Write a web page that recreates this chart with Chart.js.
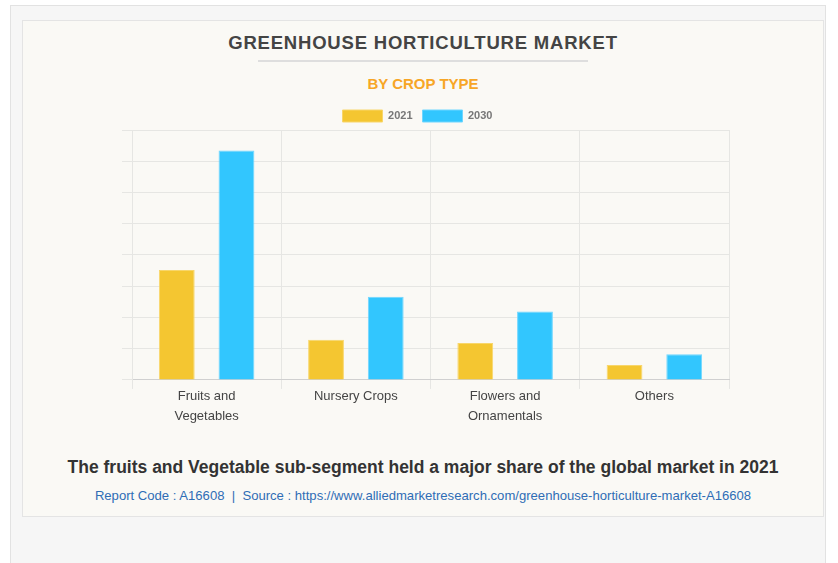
<!DOCTYPE html>
<html>
<head>
<meta charset="utf-8">
<script src="https://cdn.jsdelivr.net/npm/chart.js@4.4.1/dist/chart.umd.min.js"></script>
<style>
  html, body { margin: 0; padding: 0; background: #ffffff; width: 838px; height: 563px; overflow: hidden; font-family: "Liberation Sans", Arial, sans-serif; }
  #outer { position: absolute; left: 10px; top: 5px; width: 816px; height: 570px; background: #f6f6f6; border: 1px solid #e2e2e2; box-sizing: border-box; }
  #card { position: absolute; left: 22px; top: 20px; width: 802px; height: 497px; background: #faf9f5; border: 1px solid #e4e4e4; box-sizing: border-box; }
  .t { position: absolute; left: 22px; width: 802px; text-align: center; white-space: nowrap; }
  #title { top: 34px; font-size: 18.5px; line-height: 18px; letter-spacing: 0.8px; font-weight: bold; color: #444444; }
  #rule { position: absolute; left: 258px; top: 60px; width: 330px; height: 2px; background: #dedede; }
  #sub { top: 76px; font-size: 15px; line-height: 16px; font-weight: bold; color: #f7a626; }
  #note { top: 457px; font-size: 17.5px; line-height: 20px; font-weight: bold; color: #333333; }
  #src { top: 488px; font-size: 13.1px; line-height: 16px; color: #2f6db5; }
  #wrap { position: absolute; left: 22px; top: 98px; width: 802px; height: 340px; }
</style>
</head>
<body>
<div id="outer"></div>
<div id="card"></div>
<div class="t" id="title">GREENHOUSE HORTICULTURE MARKET</div>
<div id="rule"></div>
<div class="t" id="sub">BY CROP TYPE</div>
<div id="wrap"><canvas id="c" width="802" height="340"></canvas></div>
<div class="t" id="note">The fruits and Vegetable sub-segment held a major share of the global market in 2021</div>
<div class="t" id="src">Report Code : A16608&nbsp; | &nbsp;Source : https://www.alliedmarketresearch.com/greenhouse-horticulture-market-A16608</div>
<script>
const categories = [["Fruits and", "Vegetables"], "Nursery Crops", ["Flowers and", "Ornamentals"], "Others"];
const seriesNames = ["2021", "2030"];
const values2021 = [3.52, 1.29, 1.18, 0.48];
const values2030 = [7.34, 2.66, 2.19, 0.82];

const legendNudge = {
  id: "legendNudge",
  afterLayout(chart) {
    const l = chart.legend;
    if (!l) return;
    l.left -= 8; l.right -= 8;
    l.top += 2; l.bottom += 2;
  }
};

new Chart(document.getElementById("c"), {
  type: "bar",
  data: {
    labels: categories,
    datasets: [
      { label: seriesNames[0], data: values2021, backgroundColor: "#f4c631", borderColor: "#f8d66a", borderWidth: 1, categoryPercentage: 0.8, barPercentage: 0.6 },
      { label: seriesNames[1], data: values2030, backgroundColor: "#32c6fe", borderColor: "#6fd6ff", borderWidth: 1, categoryPercentage: 0.8, barPercentage: 0.6 }
    ]
  },
  plugins: [legendNudge],
  options: {
    responsive: false,
    animation: false,
    layout: { padding: { left: 100, right: 95, top: 0, bottom: 15 } },
    plugins: {
      legend: {
        display: true,
        position: "top",
        labels: { boxWidth: 40, boxHeight: 12, color: "#777777", font: { family: "Liberation Sans", size: 11, weight: "bold" }, padding: 10 }
      },
      tooltip: { enabled: false }
    },
    scales: {
      x: {
        grid: { display: true, offset: true, color: (ctx) => (ctx.index === 4 ? "rgba(0,0,0,0)" : "#e6e6e3"), tickLength: 9 },
        border: { display: true, color: "#d0d0d0" },
        ticks: { color: "#444444", padding: -3, font: { family: "Liberation Sans", size: 13, lineHeight: 1.54 }, maxRotation: 0, autoSkip: false }
      },
      y: {
        min: 0, max: 8,
        grid: { display: true, color: "#e6e6e3", tickLength: 10 },
        border: { display: true, color: "#e6e6e3" },
        ticks: { display: false, stepSize: 1 }
      }
    }
  }
});
</script>
</body>
</html>
